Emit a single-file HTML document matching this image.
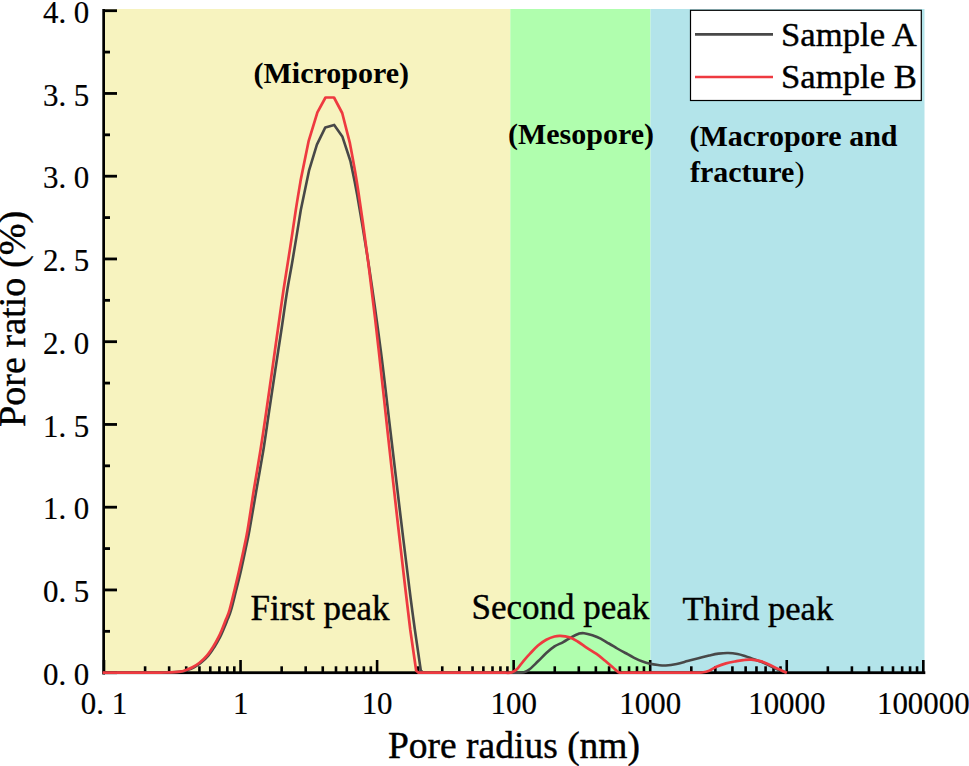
<!DOCTYPE html>
<html><head><meta charset="utf-8"><title>Pore radius distribution</title>
<style>html,body{margin:0;padding:0;background:#fff;} svg{display:block;} text{font-family:"Liberation Serif",serif;}</style>
</head><body>
<svg width="969" height="766" viewBox="0 0 969 766">
<rect x="104" y="9" width="406.3" height="663" fill="#F7F3BF"/>
<rect x="510.3" y="9" width="140.2" height="663" fill="#B0FEAE"/>
<rect x="650.5" y="9" width="274" height="663" fill="#B3E4EA"/>
<g fill="#000">
<rect x="102.3" y="9" width="2.7" height="665.5"/>
<rect x="102.3" y="671.3" width="823" height="2.8"/>
<rect x="102.70" y="660" width="2.6" height="12" /><rect x="143.81" y="666.3" width="2.6" height="6" /><rect x="167.85" y="666.3" width="2.6" height="6" /><rect x="184.91" y="666.3" width="2.6" height="6" /><rect x="198.14" y="666.3" width="2.6" height="6" /><rect x="208.96" y="666.3" width="2.6" height="6" /><rect x="218.10" y="666.3" width="2.6" height="6" /><rect x="226.02" y="666.3" width="2.6" height="6" /><rect x="233.00" y="666.3" width="2.6" height="6" /><rect x="239.25" y="660" width="2.6" height="12" /><rect x="280.36" y="666.3" width="2.6" height="6" /><rect x="304.40" y="666.3" width="2.6" height="6" /><rect x="321.46" y="666.3" width="2.6" height="6" /><rect x="334.69" y="666.3" width="2.6" height="6" /><rect x="345.51" y="666.3" width="2.6" height="6" /><rect x="354.65" y="666.3" width="2.6" height="6" /><rect x="362.57" y="666.3" width="2.6" height="6" /><rect x="369.55" y="666.3" width="2.6" height="6" /><rect x="375.80" y="660" width="2.6" height="12" /><rect x="416.91" y="666.3" width="2.6" height="6" /><rect x="440.95" y="666.3" width="2.6" height="6" /><rect x="458.01" y="666.3" width="2.6" height="6" /><rect x="471.24" y="666.3" width="2.6" height="6" /><rect x="482.06" y="666.3" width="2.6" height="6" /><rect x="491.20" y="666.3" width="2.6" height="6" /><rect x="499.12" y="666.3" width="2.6" height="6" /><rect x="506.10" y="666.3" width="2.6" height="6" /><rect x="512.35" y="660" width="2.6" height="12" /><rect x="553.46" y="666.3" width="2.6" height="6" /><rect x="577.50" y="666.3" width="2.6" height="6" /><rect x="594.56" y="666.3" width="2.6" height="6" /><rect x="607.79" y="666.3" width="2.6" height="6" /><rect x="618.61" y="666.3" width="2.6" height="6" /><rect x="627.75" y="666.3" width="2.6" height="6" /><rect x="635.67" y="666.3" width="2.6" height="6" /><rect x="642.65" y="666.3" width="2.6" height="6" /><rect x="648.90" y="660" width="2.6" height="12" /><rect x="690.01" y="666.3" width="2.6" height="6" /><rect x="714.05" y="666.3" width="2.6" height="6" /><rect x="731.11" y="666.3" width="2.6" height="6" /><rect x="744.34" y="666.3" width="2.6" height="6" /><rect x="755.16" y="666.3" width="2.6" height="6" /><rect x="764.30" y="666.3" width="2.6" height="6" /><rect x="772.22" y="666.3" width="2.6" height="6" /><rect x="779.20" y="666.3" width="2.6" height="6" /><rect x="785.45" y="660" width="2.6" height="12" /><rect x="826.56" y="666.3" width="2.6" height="6" /><rect x="850.60" y="666.3" width="2.6" height="6" /><rect x="867.66" y="666.3" width="2.6" height="6" /><rect x="880.89" y="666.3" width="2.6" height="6" /><rect x="891.71" y="666.3" width="2.6" height="6" /><rect x="900.85" y="666.3" width="2.6" height="6" /><rect x="908.77" y="666.3" width="2.6" height="6" /><rect x="915.75" y="666.3" width="2.6" height="6" /><rect x="922.00" y="660" width="2.6" height="12" /><rect x="104" y="671.30" width="13" height="2.8" /><rect x="104" y="629.93" width="6" height="2.8" /><rect x="104" y="588.55" width="13" height="2.8" /><rect x="104" y="547.18" width="6" height="2.8" /><rect x="104" y="505.80" width="13" height="2.8" /><rect x="104" y="464.43" width="6" height="2.8" /><rect x="104" y="423.05" width="13" height="2.8" /><rect x="104" y="381.68" width="6" height="2.8" /><rect x="104" y="340.30" width="13" height="2.8" /><rect x="104" y="298.93" width="6" height="2.8" /><rect x="104" y="257.55" width="13" height="2.8" /><rect x="104" y="216.18" width="6" height="2.8" /><rect x="104" y="174.80" width="13" height="2.8" /><rect x="104" y="133.43" width="6" height="2.8" /><rect x="104" y="92.05" width="13" height="2.8" /><rect x="104" y="50.68" width="6" height="2.8" /><rect x="104" y="9.30" width="13" height="2.8" />
</g>
<path d="M102.6,672.7 L152.0,672.7 C154.6,672.7 162.6,672.7 167.5,672.5 C172.4,672.3 178.2,672.0 181.5,671.6 C184.8,671.2 185.4,670.7 187.5,670.0 C189.6,669.3 191.8,668.5 194.0,667.3 C196.2,666.1 198.2,664.9 200.6,663.0 C203.0,661.1 206.0,658.5 208.3,655.7 C210.7,653.0 212.8,649.5 214.7,646.5 C216.6,643.5 218.3,640.4 219.9,637.4 C221.5,634.4 222.7,631.3 224.0,628.3 C225.3,625.2 226.5,622.1 227.7,619.1 C228.9,616.1 229.7,614.9 231.1,610.0 C232.5,605.1 234.5,596.7 236.2,590.0 C237.9,583.3 239.6,576.7 241.1,570.0 C242.6,563.3 244.0,556.7 245.4,550.0 C246.8,543.3 247.7,540.0 249.5,530.0 C251.3,520.0 254.1,503.3 256.4,490.0 C258.7,476.7 261.2,463.3 263.4,450.0 C265.5,436.7 267.3,423.3 269.3,410.0 C271.3,396.7 273.3,383.3 275.3,370.0 C277.3,356.7 279.4,343.3 281.4,330.0 C283.4,316.7 285.4,301.7 287.3,290.0 C289.2,278.3 290.4,273.3 292.6,260.0 C294.9,246.7 299.4,218.3 300.8,210.0 L309.0,170.7 L316.9,144.6 L325.3,127.4 L334.2,124.9 L342.3,136.4 L350.4,161.0 C351.5,166.7 354.0,176.8 357.2,195.0 C360.4,213.2 365.6,244.2 369.5,270.0 C373.4,295.8 377.2,323.3 380.7,350.0 C384.2,376.7 387.1,403.3 390.3,430.0 C393.5,456.7 396.6,483.3 399.8,510.0 C403.0,536.7 407.1,570.0 409.6,590.0 C412.1,610.0 414.0,623.3 414.9,630.0 L420.8,670.4 L423.0,672.7 L513.3,672.7 C515.1,672.6 521.2,672.8 524.0,672.2 C526.8,671.6 527.5,670.9 529.8,669.1 C532.1,667.3 535.2,664.0 538.0,661.3 C540.8,658.6 543.5,655.5 546.3,653.0 C549.0,650.5 551.8,648.2 554.5,646.4 C557.2,644.6 560.0,643.8 562.8,642.3 C565.6,640.8 568.4,638.8 571.1,637.3 C573.9,635.8 577.1,634.3 579.3,633.6 C581.5,632.9 581.9,632.9 584.1,633.2 C586.3,633.5 589.6,634.4 592.4,635.3 C595.1,636.2 597.9,637.2 600.6,638.6 C603.4,640.0 606.1,641.9 608.9,643.5 C611.7,645.1 614.5,646.9 617.2,648.5 C620.0,650.1 622.6,651.5 625.4,653.0 C628.1,654.5 631.0,656.2 633.7,657.6 C636.5,659.0 639.1,660.3 641.9,661.3 C644.6,662.3 647.5,663.2 650.2,663.8 C652.9,664.4 655.4,664.7 658.0,665.0 C660.6,665.3 662.7,665.7 665.8,665.5 C668.9,665.3 673.1,664.7 676.7,664.0 C680.3,663.3 683.9,662.1 687.5,661.1 C691.1,660.1 694.8,659.1 698.4,658.2 C702.0,657.3 705.9,656.3 709.2,655.5 C712.6,654.7 715.3,654.0 718.5,653.6 C721.7,653.2 725.1,652.9 728.3,653.0 C731.5,653.1 734.6,653.5 737.5,654.0 C740.4,654.5 742.9,655.4 745.5,656.2 C748.1,657.0 750.4,658.0 753.0,658.9 C755.6,659.8 758.5,660.7 761.3,661.8 C764.0,662.9 766.8,664.2 769.5,665.5 C772.2,666.8 775.0,668.4 777.8,669.6 C780.6,670.8 784.7,672.1 786.1,672.6" fill="none" stroke="#484848" stroke-width="2.6" stroke-linejoin="round"/>
<path d="M102.6,672.7 L150.0,672.7 C152.7,672.7 161.0,672.7 166.0,672.5 C171.0,672.3 176.7,672.0 180.0,671.6 C183.3,671.2 183.9,670.7 186.0,670.0 C188.1,669.3 190.3,668.5 192.5,667.3 C194.7,666.1 196.8,664.9 199.2,663.0 C201.6,661.1 204.6,658.5 206.9,655.7 C209.2,653.0 211.4,649.5 213.3,646.5 C215.2,643.5 216.9,640.4 218.4,637.4 C219.9,634.4 221.2,631.3 222.5,628.3 C223.8,625.2 224.9,622.1 226.1,619.1 C227.3,616.1 228.1,614.9 229.5,610.0 C230.9,605.1 232.9,596.7 234.5,590.0 C236.1,583.3 237.7,576.7 239.2,570.0 C240.7,563.3 242.2,556.7 243.6,550.0 C245.0,543.3 245.9,540.0 247.6,530.0 C249.3,520.0 251.7,503.3 253.8,490.0 C256.0,476.7 258.4,463.3 260.5,450.0 C262.6,436.7 264.6,423.3 266.5,410.0 C268.4,396.7 270.3,383.3 272.2,370.0 C274.1,356.7 275.9,343.3 277.8,330.0 C279.7,316.7 281.5,303.3 283.5,290.0 C285.5,276.7 287.8,263.3 289.8,250.0 C291.9,236.7 294.0,221.7 295.8,210.0 C297.6,198.3 299.9,185.1 300.7,180.1 L308.7,140.8 L317.4,112.4 L325.5,97.5 L334.0,97.5 L342.2,113.0 L349.9,143.2 C351.3,151.0 354.9,168.9 358.1,190.0 C361.3,211.1 365.8,243.3 369.2,270.0 C372.6,296.7 375.7,323.3 378.7,350.0 C381.7,376.7 384.5,403.3 387.4,430.0 C390.3,456.7 393.3,483.3 396.3,510.0 C399.3,536.7 403.2,570.0 405.5,590.0 C407.8,610.0 409.5,623.3 410.3,630.0 L416.2,670.8 L418.5,672.7 L505.0,672.7 C506.1,672.7 509.5,673.1 511.6,672.4 C513.7,671.7 515.5,670.6 517.4,668.7 C519.3,666.9 521.1,663.8 523.2,661.3 C525.3,658.8 527.3,656.5 529.8,653.9 C532.3,651.3 535.2,648.0 538.0,645.6 C540.8,643.2 543.5,641.3 546.3,639.8 C549.0,638.3 552.2,637.1 554.5,636.5 C556.8,635.9 557.8,635.8 560.3,635.9 C562.8,636.0 566.5,636.4 569.4,637.3 C572.3,638.2 574.9,639.8 577.7,641.5 C580.6,643.2 583.4,645.5 586.5,647.6 C589.6,649.7 593.5,651.8 596.5,653.9 C599.5,656.0 602.0,658.2 604.8,660.5 C607.5,662.8 610.7,665.5 613.0,667.5 C615.3,669.5 616.6,671.3 618.4,672.2 C620.2,673.1 623.1,672.6 624.0,672.7 L695.0,672.7 C696.2,672.7 699.6,672.8 702.0,672.5 C704.4,672.2 706.8,671.8 709.2,670.8 C711.6,669.8 713.6,668.0 716.4,666.8 C719.2,665.6 722.6,664.3 726.0,663.4 C729.4,662.5 733.4,661.8 736.5,661.2 C739.6,660.6 742.3,660.1 744.8,659.9 C747.3,659.6 748.6,659.5 751.4,659.7 C754.1,660.0 758.3,660.6 761.3,661.4 C764.3,662.2 766.8,663.5 769.5,664.7 C772.2,665.9 774.9,667.4 777.8,668.8 C780.7,670.1 785.4,672.1 786.9,672.8" fill="none" stroke="#EE3A40" stroke-width="2.7" stroke-linejoin="round"/>
<g font-family="Liberation Serif" font-size="32" fill="#000" stroke="#000" stroke-width="0.2">
<text transform="translate(89.3,684.7) scale(0.965,1)" text-anchor="end">0.&#160;0</text><text transform="translate(89.3,602.0) scale(0.965,1)" text-anchor="end">0.&#160;5</text><text transform="translate(89.3,519.2) scale(0.965,1)" text-anchor="end">1.&#160;0</text><text transform="translate(89.3,436.5) scale(0.965,1)" text-anchor="end">1.&#160;5</text><text transform="translate(89.3,353.7) scale(0.965,1)" text-anchor="end">2.&#160;0</text><text transform="translate(89.3,271.0) scale(0.965,1)" text-anchor="end">2.&#160;5</text><text transform="translate(89.3,188.2) scale(0.965,1)" text-anchor="end">3.&#160;0</text><text transform="translate(89.3,105.5) scale(0.965,1)" text-anchor="end">3.&#160;5</text><text transform="translate(89.3,22.7) scale(0.965,1)" text-anchor="end">4.&#160;0</text>
<text transform="translate(104.0,713.5) scale(0.965,1)" text-anchor="middle">0.&#160;1</text><text transform="translate(240.6,713.5) scale(0.965,1)" text-anchor="middle">1</text><text transform="translate(377.1,713.5) scale(0.965,1)" text-anchor="middle">10</text><text transform="translate(513.7,713.5) scale(0.965,1)" text-anchor="middle">100</text><text transform="translate(650.2,713.5) scale(0.965,1)" text-anchor="middle">1000</text><text transform="translate(786.8,713.5) scale(0.965,1)" text-anchor="middle">10000</text><text transform="translate(923.3,713.5) scale(0.965,1)" text-anchor="middle">100000</text>
</g>
<g font-family="Liberation Serif" fill="#000" stroke="#000" stroke-width="0.4">
<text x="388" y="757.6" font-size="37.5">Pore radius (nm)</text>
<text transform="translate(25.3,427.1) rotate(-90)" font-size="38.2">Pore ratio (%)</text>
<text x="250.5" y="620" font-size="35">First peak</text>
<text x="471.5" y="619.2" font-size="35">Second peak</text>
<text x="682.5" y="620.3" font-size="34.6">Third peak</text>
</g>
<g font-family="Liberation Serif" font-weight="bold" font-size="30" fill="#000">
<text x="253.5" y="83">(Micropore)</text>
<text x="508" y="143.9">(Mesopore)</text>
<text x="689.5" y="145.9">(Macropore and</text>
<text x="690" y="181.5">fracture<tspan font-weight="normal">)</tspan></text>
</g>
<rect x="690.5" y="10.3" width="230.8" height="90.2" fill="#fff" stroke="#000" stroke-width="1.2"/>
<line x1="695" y1="34.4" x2="773" y2="34.4" stroke="#484848" stroke-width="2.6"/>
<line x1="695" y1="77" x2="773" y2="77" stroke="#EE3A40" stroke-width="2.7"/>
<g font-family="Liberation Serif" font-size="34.7" fill="#000" stroke="#000" stroke-width="0.4">
<text x="781" y="46.3">Sample A</text>
<text x="781" y="87.9">Sample B</text>
</g>
</svg>
</body></html>
